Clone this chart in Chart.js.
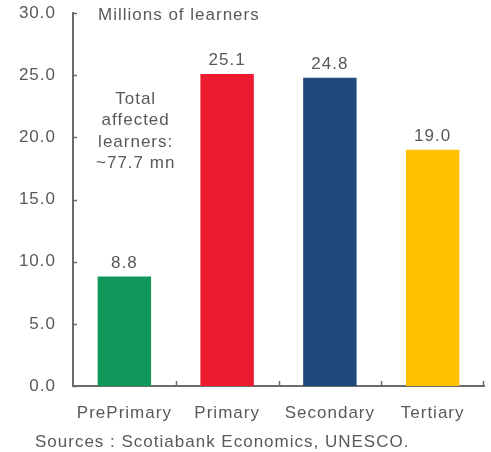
<!DOCTYPE html>
<html>
<head>
<meta charset="utf-8">
<script src="https://cdn.jsdelivr.net/npm/chart.js@4.4.1/dist/chart.umd.min.js"></script>
<style>
  html, body { margin: 0; padding: 0; background: #fff; }
  #wrap { width: 491px; height: 452px; position: relative; }
</style>
</head>
<body>
<div id="wrap"><canvas id="c" width="491" height="452"></canvas></div>
<script>
const categories = ['PrePrimary', 'Primary', 'Secondary', 'Tertiary'];
const learners = [8.8, 25.1, 24.8, 19.0];
const barColors = ['#10975A', '#EC1B30', '#1F497D', '#FFC000'];
const yTicks = [0, 5, 10, 15, 20, 25, 30];
const unitLabel = 'Millions of learners';
const totalNote = ['Total', 'affected', 'learners:', '~77.7 mn'];
const sourceNote = 'Sources : Scotiabank Economics, UNESCO.';

const TEXT = '#595959';
const AXIS = '#6b6b6b';
const FONT = '"Liberation Sans", Arial, sans-serif';
const SIZE = 17;

// Slightly open letter spacing for every piece of text on the canvas.
const spacing = {
  id: 'spacing',
  beforeInit(chart) { chart.ctx.letterSpacing = '1px'; },
  beforeDraw(chart) { chart.ctx.letterSpacing = '1px'; }
};

// Short tick marks drawn inward from both axes, plus all annotation text.
const decor = {
  id: 'decor',
  afterDatasetsDraw(chart) {
    const ctx = chart.ctx;
    const y = chart.scales.y, x = chart.scales.x;
    const area = chart.chartArea;
    ctx.save();
    ctx.strokeStyle = AXIS;
    ctx.lineWidth = 1.5;
    yTicks.forEach(v => {
      const py = Math.round(y.getPixelForValue(v)) + 0.5;
      ctx.beginPath();
      ctx.moveTo(area.left, py);
      ctx.lineTo(area.left + 4, py);
      ctx.stroke();
    });
    for (let i = 1; i <= categories.length; i++) {
      const px = i < categories.length
        ? (x.getPixelForValue(i - 1) + x.getPixelForValue(i)) / 2
        : area.right - 1;
      ctx.beginPath();
      ctx.moveTo(Math.round(px) + 0.5, area.bottom);
      ctx.lineTo(Math.round(px) + 0.5, area.bottom - 5);
      ctx.stroke();
    }

    ctx.fillStyle = TEXT;
    ctx.font = SIZE + 'px ' + FONT;
    ctx.textAlign = 'center';
    ctx.textBaseline = 'alphabetic';
    const meta = chart.getDatasetMeta(0);
    meta.data.forEach((bar, i) => {
      ctx.fillText(learners[i].toFixed(1), bar.x, bar.y - 9);
    });

    ctx.textAlign = 'left';
    ctx.fillText(unitLabel, area.left + 25, y.getPixelForValue(30) + 7);

    ctx.textAlign = 'center';
    const noteX = (area.left + meta.data[0].x) / 2 + 37;
    totalNote.forEach((line, k) => {
      ctx.fillText(line, noteX, 104 + k * 21.3);
    });

    ctx.textAlign = 'left';
    ctx.fillText(sourceNote, 35, 447);
    ctx.restore();
  }
};

new Chart(document.getElementById('c'), {
  type: 'bar',
  data: {
    labels: categories,
    datasets: [{
      data: learners,
      backgroundColor: barColors,
      borderWidth: 0,
      barPercentage: 0.52,
      categoryPercentage: 1.0
    }]
  },
  options: {
    responsive: false,
    animation: false,
    layout: { padding: { top: 13, right: 7, left: 0, bottom: 0 } },
    plugins: { legend: { display: false }, tooltip: { enabled: false } },
    scales: {
      x: {
        grid: { display: false, drawTicks: false },
        border: { display: true, color: AXIS, width: 2 },
        ticks: { color: TEXT, font: { family: FONT, size: SIZE }, padding: 17, maxRotation: 0 },
        afterFit(s) { s.height = 66; s.paddingLeft = 0; s.paddingRight = 0; }
      },
      y: {
        min: 0, max: 30,
        grid: { display: false, drawTicks: false },
        border: { display: true, color: AXIS, width: 2 },
        afterBuildTicks(s) { s.ticks = yTicks.map(v => ({ value: v })); },
        ticks: {
          color: TEXT, font: { family: FONT, size: SIZE }, padding: 17,
          callback: v => Number(v).toFixed(1)
        },
        afterFit(s) { s.width = 73; s.paddingTop = 0; s.paddingBottom = 0; }
      }
    }
  },
  plugins: [spacing, decor]
});
</script>
</body>
</html>
